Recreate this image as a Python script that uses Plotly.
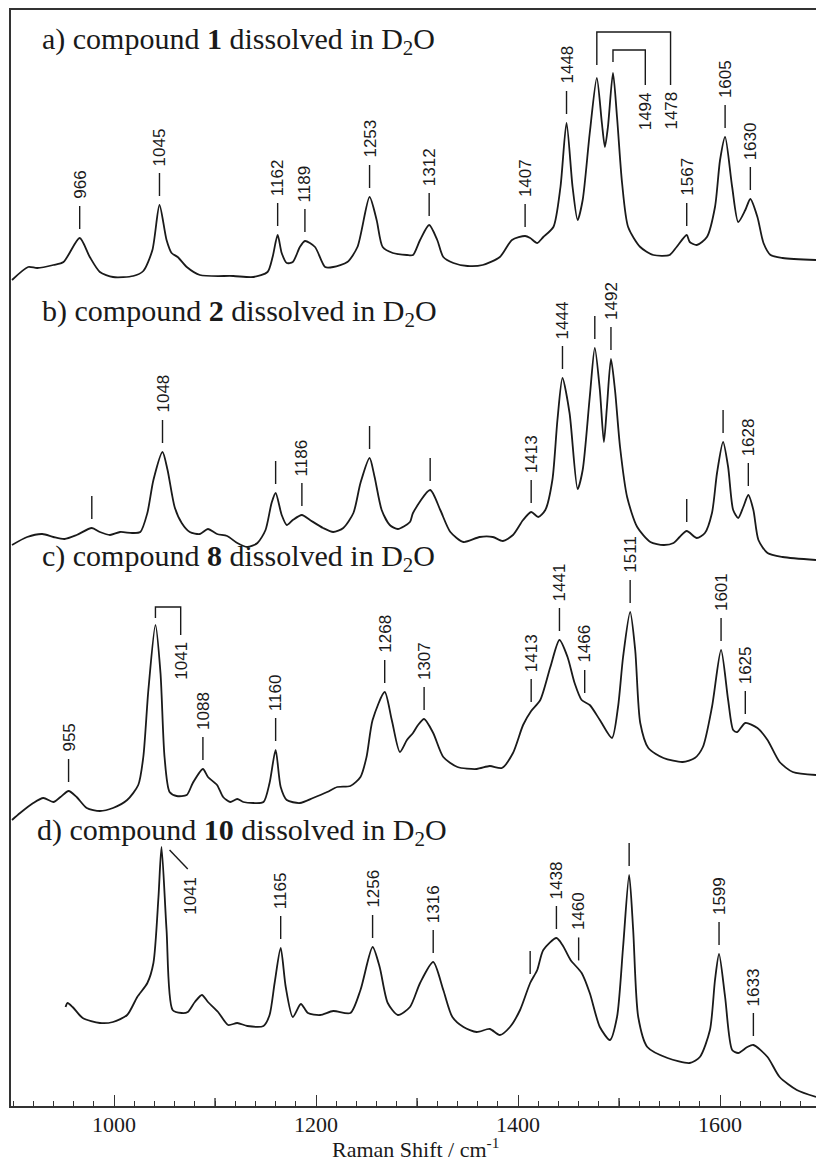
import numpy as np
import plotly.graph_objects as go

# Raman shift (cm^-1) and intensity (arb. units, relative to each trace's own baseline)
wn_1 = [899, 915, 924, 940, 950, 966, 976, 986, 999, 1019,
        1029, 1038, 1045, 1052, 1057, 1063, 1072, 1085, 1118, 1138,
        1152, 1157, 1162, 1166, 1171, 1177, 1184, 1189, 1199, 1209,
        1217, 1231, 1241, 1253, 1260, 1266, 1276, 1290, 1296, 1303,
        1312, 1320, 1326, 1336, 1350, 1365, 1382, 1394, 1407, 1412,
        1419, 1425, 1435, 1442, 1448, 1454, 1459, 1464, 1471, 1478,
        1483, 1486, 1489, 1494, 1498, 1503, 1509, 1521, 1534, 1550,
        1557, 1567, 1570, 1577, 1587, 1595, 1600, 1605, 1612, 1618,
        1625, 1630, 1637, 1643, 1650, 1662, 1695]
int_1 = [26, 39, 38, 41, 44, 68, 49, 34, 29, 30,
         35, 56, 101, 66, 53, 49, 39, 31, 30, 29,
         34, 49, 71, 53, 43, 44, 59, 65, 59, 39,
         39, 44, 59, 109, 86, 59, 53, 51, 51, 66,
         81, 66, 49, 43, 40, 41, 49, 66, 70, 68,
         63, 69, 79, 119, 183, 119, 86, 106, 173, 228,
         183, 159, 179, 233, 189, 123, 79, 59, 51, 51,
         59, 71, 64, 61, 69, 99, 146, 169, 119, 84,
         96, 107, 89, 63, 51, 48, 46]

wn_2 = [899, 914, 929, 940, 951, 963, 978, 986, 996, 1006,
        1018, 1026, 1033, 1039, 1048, 1053, 1060, 1067, 1075, 1085,
        1093, 1102, 1112, 1122, 1132, 1142, 1150, 1156, 1160, 1166,
        1171, 1177, 1186, 1194, 1207, 1217, 1227, 1237, 1244, 1253,
        1258, 1265, 1273, 1281, 1293, 1296, 1313, 1323, 1333, 1346,
        1362, 1375, 1385, 1395, 1405, 1413, 1420, 1427, 1434, 1439,
        1444, 1451, 1459, 1464, 1471, 1476, 1481, 1485, 1488, 1492,
        1496, 1501, 1508, 1518, 1531, 1544, 1554, 1560, 1567, 1577,
        1585, 1592, 1597, 1603, 1608, 1613, 1618, 1623, 1628, 1633,
        1638, 1647, 1662, 1695]
int_2 = [21, 29, 32, 29, 27, 31, 38, 34, 31, 34,
         33, 34, 53, 86, 114, 96, 59, 43, 34, 32,
         37, 32, 30, 23, 19, 23, 36, 63, 73, 51,
         41, 46, 51, 46, 38, 34, 38, 53, 83, 108,
         89, 56, 41, 37, 44, 53, 76, 56, 34, 24,
         29, 29, 25, 31, 46, 54, 49, 56, 86, 146,
         188, 153, 77, 96, 169, 218, 176, 124, 159, 207,
         176, 119, 69, 39, 24, 21, 23, 29, 35, 28,
         33, 53, 93, 124, 99, 56, 48, 59, 71, 56,
         26, 13, 9, 6]

wn_8 = [899, 907, 920, 930, 940, 947, 955, 963, 973, 986,
        999, 1013, 1024, 1029, 1034, 1041, 1046, 1050, 1055, 1062,
        1072, 1078, 1088, 1093, 1102, 1108, 1115, 1122, 1128, 1138,
        1148, 1154, 1160, 1165, 1171, 1184, 1197, 1211, 1221, 1234,
        1244, 1250, 1256, 1268, 1275, 1283, 1290, 1296, 1301, 1307,
        1316, 1326, 1340, 1359, 1372, 1384, 1395, 1405, 1413, 1422,
        1432, 1441, 1449, 1456, 1463, 1471, 1481, 1493, 1499, 1504,
        1511, 1516, 1521, 1529, 1544, 1563, 1575, 1583, 1592, 1601,
        1608, 1613, 1617, 1625, 1637, 1647, 1659, 1672, 1695]
int_8 = [16, 23, 33, 38, 34, 39, 45, 39, 28, 25,
         28, 36, 51, 79, 146, 211, 163, 79, 44, 40,
         41, 53, 67, 59, 51, 39, 34, 37, 34, 33,
         34, 53, 86, 49, 36, 33, 38, 44, 49, 50,
         59, 79, 116, 144, 116, 84, 96, 103, 111, 117,
         103, 79, 69, 67, 70, 68, 83, 111, 125, 136,
         169, 196, 179, 153, 136, 131, 116, 98, 129, 179,
         224, 186, 113, 88, 78, 74, 78, 89, 129, 186,
         136, 106, 104, 113, 108, 96, 74, 64, 61]

wn_10 = [952, 954, 959, 969, 986, 999, 1013, 1023, 1033, 1039,
         1044, 1047, 1052, 1058, 1067, 1073, 1080, 1087, 1093, 1103,
         1113, 1122, 1132, 1148, 1154, 1159, 1165, 1170, 1177, 1185,
         1192, 1204, 1217, 1234, 1244, 1256, 1263, 1271, 1281, 1293,
         1303, 1316, 1326, 1335, 1346, 1359, 1372, 1382, 1392, 1402,
         1412, 1419, 1425, 1438, 1444, 1452, 1463, 1471, 1481, 1491,
         1498, 1504, 1510, 1514, 1519, 1528, 1548, 1570, 1580, 1590,
         1595, 1599, 1605, 1612, 1618, 1627, 1633, 1647, 1659, 1676,
         1695]
int_10 = [99, 103, 99, 88, 83, 84, 91, 109, 123, 143,
          209, 259, 176, 96, 93, 94, 104, 111, 104, 94,
          81, 83, 80, 80, 91, 123, 158, 119, 89, 102,
          93, 91, 95, 93, 116, 159, 139, 103, 91, 99,
          123, 144, 116, 89, 79, 74, 77, 71, 79, 96,
          123, 136, 156, 168, 161, 146, 133, 113, 79, 66,
          89, 159, 231, 176, 89, 59, 48, 43, 49, 76,
          126, 152, 109, 56, 53, 59, 61, 49, 29, 16,
          9]

# vertical stacking offsets of the four traces
offset_1, offset_2, offset_8, offset_10 = 800, 540, 270, 0

# marked bands; an empty string draws the bar without a number
peaks_1 = [966, 1045, 1162, 1189, 1253, 1312, 1407, 1448, 1567, 1605, 1630]
texts_1 = ["966", "1045", "1162", "1189", "1253", "1312", "1407", "1448", "1567", "1605", "1630"]
peaks_2 = [978, 1048, 1160, 1186, 1253, 1313, 1413, 1444, 1476, 1492, 1567, 1603, 1628]
texts_2 = ["", "1048", "", "1186", "", "", "1413", "1444", "", "1492", "", "", "1628"]
peaks_8 = [955, 1088, 1160, 1268, 1307, 1413, 1441, 1466, 1511, 1601, 1625]
texts_8 = ["955", "1088", "1160", "1268", "1307", "1413", "1441", "1466", "1511", "1601", "1625"]
peaks_10 = [1165, 1256, 1316, 1412, 1438, 1460, 1510, 1599, 1633]
texts_10 = ["1165", "1256", "1316", "", "1438", "1460", "", "1599", "1633"]

titles = [
    "a) compound <b>1</b> dissolved in D<sub>2</sub>O",
    "b) compound <b>2</b> dissolved in D<sub>2</sub>O",
    "c) compound <b>8</b> dissolved in D<sub>2</sub>O",
    "d) compound <b>10</b> dissolved in D<sub>2</sub>O",
]

x_label_ticks = [1000, 1200, 1400, 1600]
x_mid_ticks = [1100, 1300, 1500]

INK = "#1a1a1a"
SERIF = "Liberation Serif, Times New Roman, serif"
SANS = "Liberation Sans, Arial, sans-serif"

fig = go.Figure()
shapes = []
annotations = []

traces = [
    (wn_1, int_1, offset_1, peaks_1, texts_1),
    (wn_2, int_2, offset_2, peaks_2, texts_2),
    (wn_8, int_8, offset_8, peaks_8, texts_8),
    (wn_10, int_10, offset_10, peaks_10, texts_10),
]

GAP, BAR, TXT_GAP = 9, 23, 5
for wn, inten, off, peaks, texts in traces:
    y = np.asarray(inten) + off
    fig.add_trace(go.Scatter(
        x=wn, y=y, mode="lines",
        line=dict(color=INK, width=1.8, shape="spline", smoothing=0.7),
        hoverinfo="skip", showlegend=False))
    for p, t in zip(peaks, texts):
        y0 = float(np.interp(p, wn, y)) + GAP
        y1 = y0 + BAR
        shapes.append(dict(type="line", xref="x", yref="y", x0=p, x1=p, y0=y0, y1=y1,
                           line=dict(color=INK, width=1.4)))
        if t:
            annotations.append(dict(x=p, y=y1 + TXT_GAP, xref="x", yref="y", text=t,
                                    textangle=-90, xanchor="center", yanchor="bottom",
                                    showarrow=False, font=dict(family=SANS, size=17, color=INK)))

# bracketed assignments
def bracket(pts, label, lx, ly):
    path = "M " + " L ".join(f"{x},{yy}" for x, yy in pts)
    shapes.append(dict(type="path", xref="x", yref="y", path=path,
                       line=dict(color=INK, width=1.4)))
    annotations.append(dict(x=lx, y=ly, xref="x", yref="y", text=label, textangle=-90,
                            xanchor="center", yanchor="top", showarrow=False,
                            font=dict(family=SANS, size=17, color=INK)))

bracket([(1478, 241 + offset_1), (1478, 274 + offset_1), (1551, 274 + offset_1), (1551, 221 + offset_1)],
        "1478", 1551, 216 + offset_1)
bracket([(1494, 244 + offset_1), (1494, 256 + offset_1), (1526, 256 + offset_1), (1526, 221 + offset_1)],
        "1494", 1526, 216 + offset_1)
bracket([(1041, 218 + offset_8), (1041, 229 + offset_8), (1066, 229 + offset_8), (1066, 201 + offset_8)],
        "1041", 1066, 196 + offset_8)
bracket([(1055, 256 + offset_10), (1073, 237 + offset_10)], "1041", 1075, 231 + offset_10)

# intermediate (odd hundred) ticks, a little longer than the minor ones
for v in x_mid_ticks:
    shapes.append(dict(type="line", xref="x", yref="y", x0=v, x1=v, y0=0, y1=8,
                       line=dict(color="#333", width=1.4)))

# tick numbers just under the axis line
for v in x_label_ticks:
    annotations.append(dict(x=v, y=-0.0165, xref="x", yref="paper", text=str(v),
                            xanchor="center", yanchor="middle", showarrow=False,
                            font=dict(family=SERIF, size=22, color=INK)))

# panel captions
for txt, (xc, yc) in zip(titles, [(927, 1065), (927, 793), (927, 548), (922, 274)]):
    annotations.append(dict(x=xc, y=yc, xref="x", yref="y", text=txt, xanchor="left",
                            yanchor="middle", showarrow=False,
                            font=dict(family=SERIF, size=30, color=INK)))

# axis title, placed below the plotting area
annotations.append(dict(x=0.503, y=-0.0385, xref="paper", yref="paper",
                        text="Raman Shift / cm<sup>-1</sup>",
                        xanchor="center", yanchor="middle", showarrow=False,
                        font=dict(family=SERIF, size=22, color=INK)))

fig.update_layout(
    width=816, height=1164,
    margin=dict(l=11, r=0, t=10, b=58),
    paper_bgcolor="white", plot_bgcolor="white",
    shapes=shapes, annotations=annotations,
    xaxis=dict(range=[898, 1695], showgrid=False, zeroline=False,
               showline=True, linecolor="#333", linewidth=1.8, mirror=True,
               ticks="inside", ticklen=11, tickwidth=1.4, tickcolor="#333",
               tickvals=x_label_ticks, showticklabels=False,
               minor=dict(dtick=20, tick0=900, ticks="inside", ticklen=5,
                          tickwidth=1.2, tickcolor="#333")),
    yaxis=dict(range=[0, 1096], showgrid=False, zeroline=False, showticklabels=False,
               showline=True, linecolor="#333", linewidth=1.8, ticks=""),
)

fig.write_html("out.html")
